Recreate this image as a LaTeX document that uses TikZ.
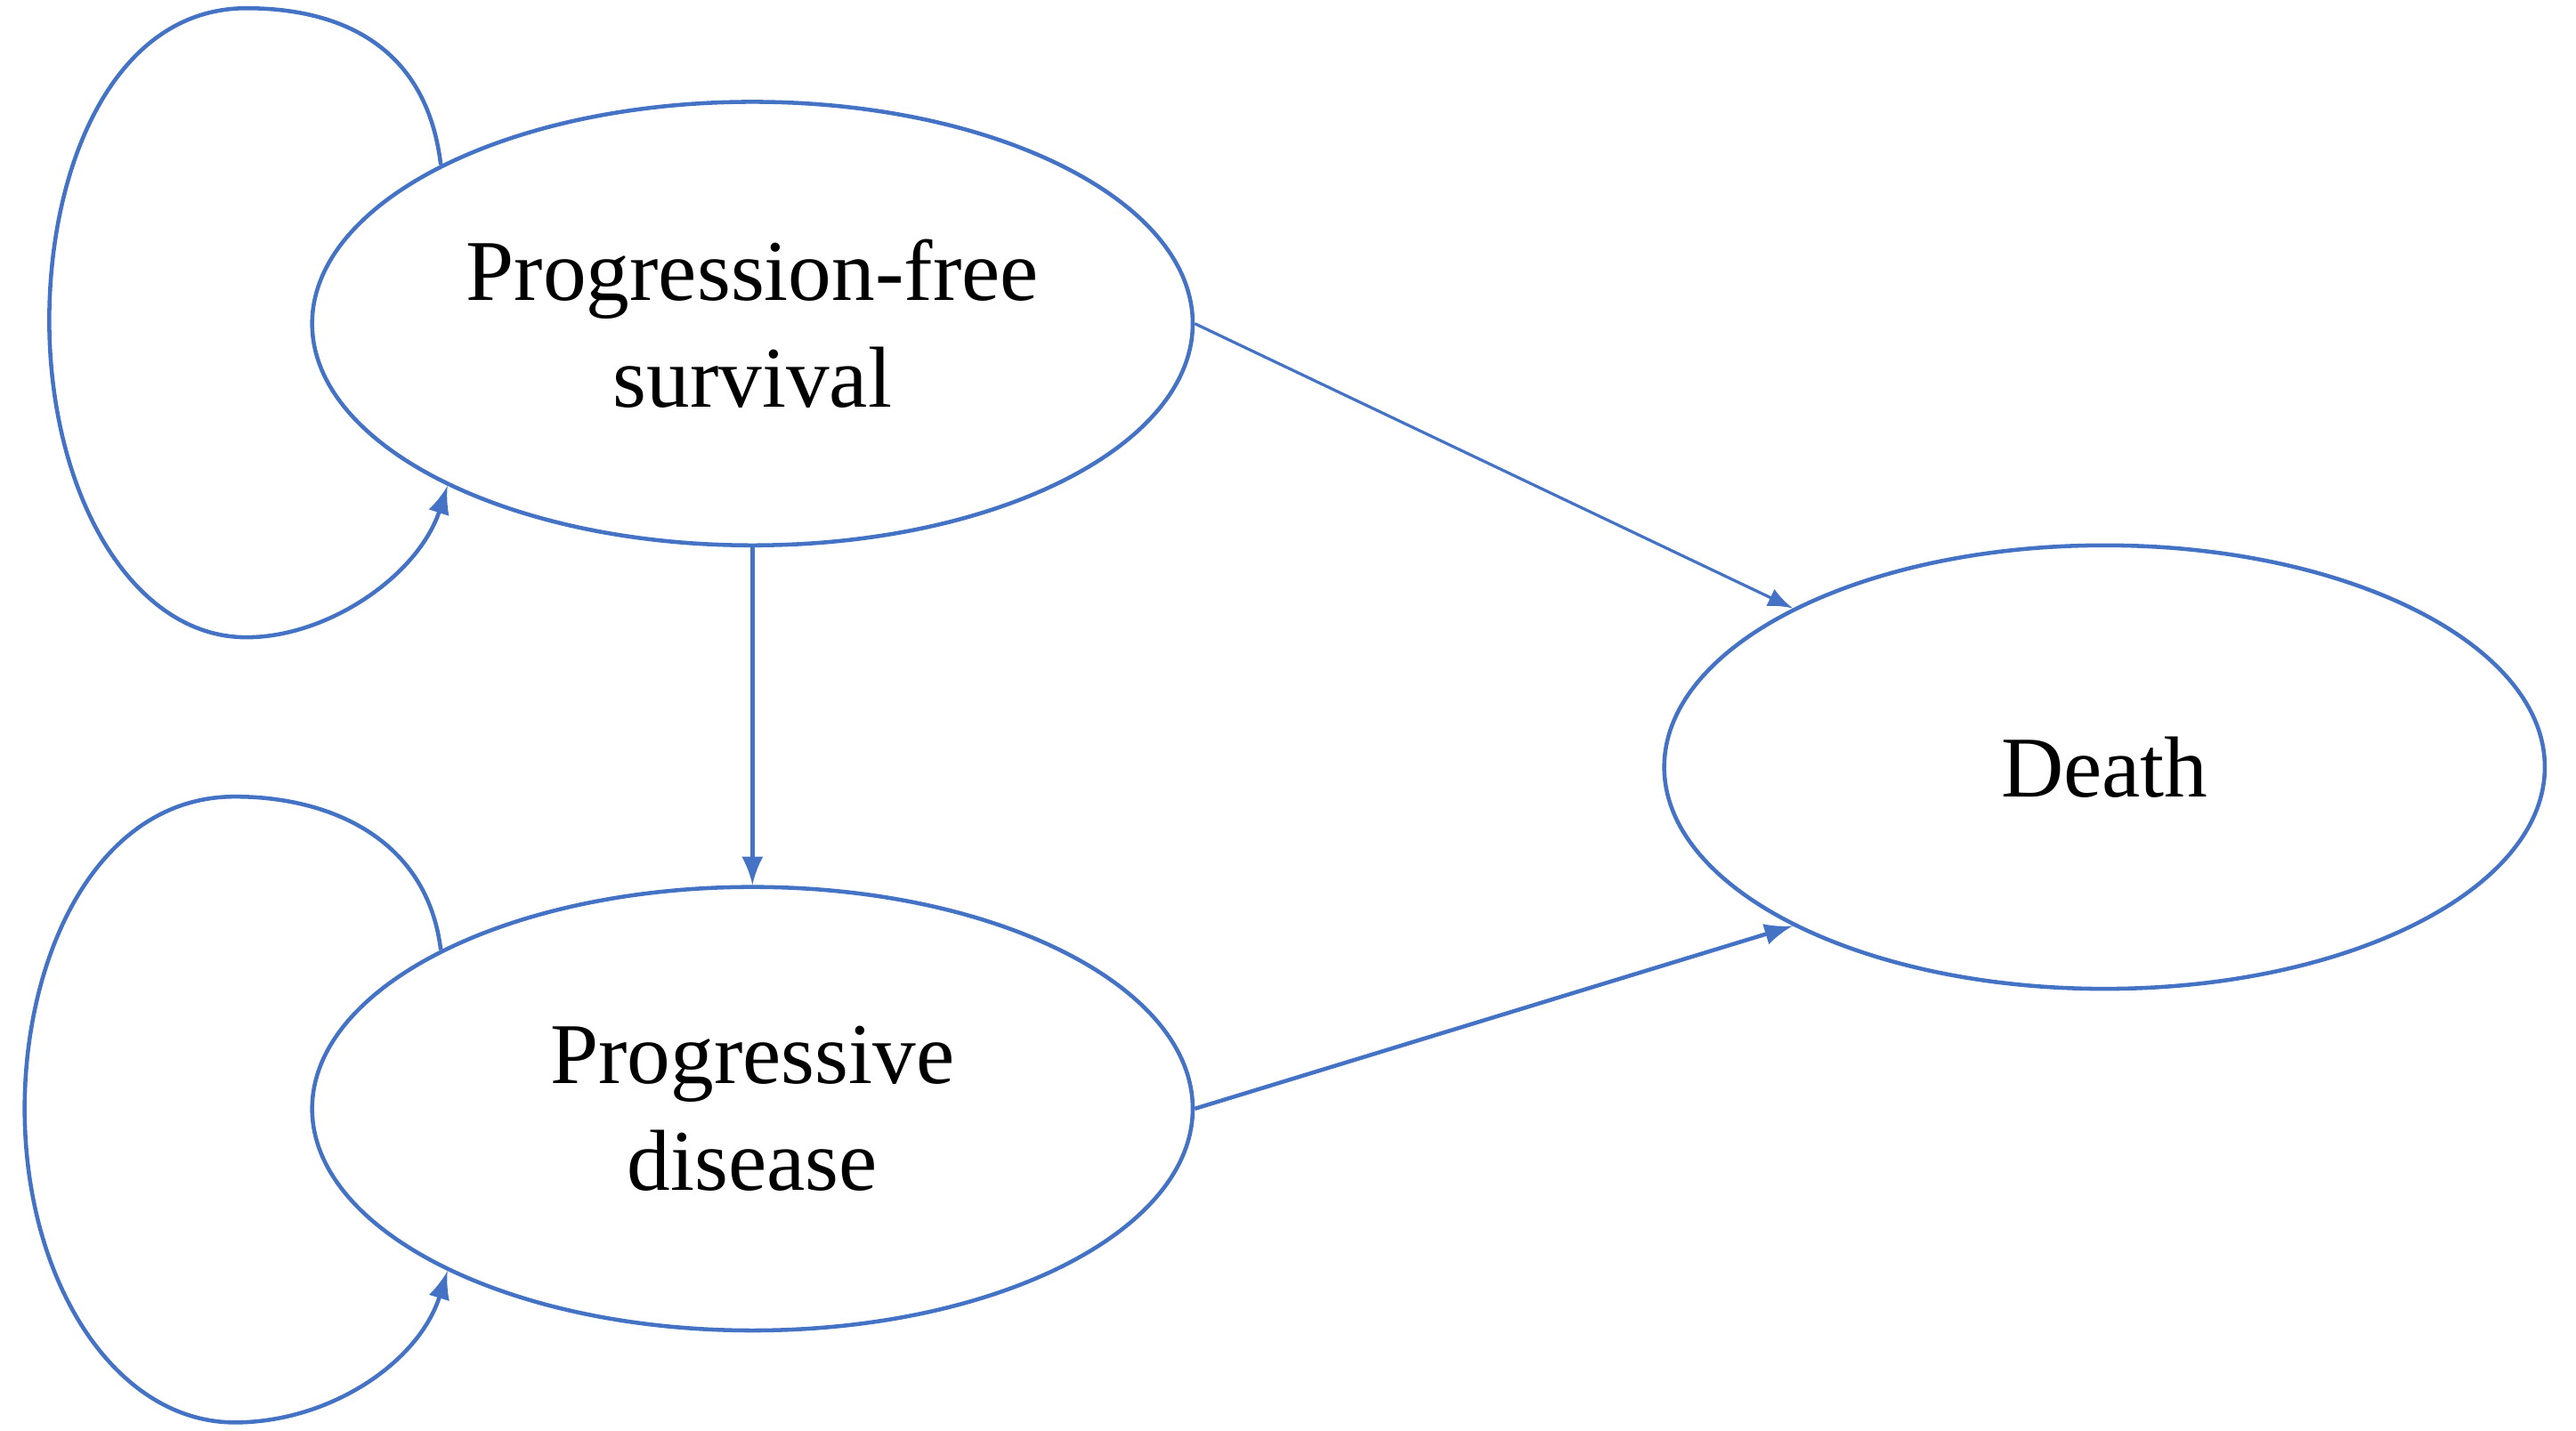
\documentclass[tikz,border=0pt]{standalone}
\usepackage{fontspec}
\setmainfont{Liberation Serif}
\usetikzlibrary{shapes.geometric}
\definecolor{stateblue}{RGB}{68,114,196}
\tikzset{
  state/.style={ellipse, draw=stateblue, line width=0.7pt, minimum width=5.36cm,
    minimum height=2.7cm, inner sep=0pt, align=center, font=\fontsize{15}{18.5}\selectfont},
  trans/.style={->, >=latex, stateblue, line width=0.7pt}
}
\begin{document}
\begin{tikzpicture}
\useasboundingbox (0,0) rectangle (15.68,-8.71);
\node[state] (pfs) at (4.58,-1.97) {Progression-free\\survival};
\node[state] (pd) at (4.58,-6.75) {Progressive\\disease};
\node[state] (death) at (12.81,-4.67) {Death};

\draw[trans] (pfs) -- (pd);
\draw[trans, line width=0.5pt] (pfs.east) -- (death.153);
\draw[trans] (pd.east) -- (death.207);

% self loops
\draw[trans] (pfs.153) .. controls (2.6,-0.3) and (2.1,-0.05) .. (1.5,-0.05)
  .. controls (0.7,-0.05) and (0.3,-1.0) .. (0.3,-1.95)
  .. controls (0.3,-3.0) and (0.8,-3.88) .. (1.5,-3.88)
  .. controls (2.0,-3.88) and (2.55,-3.5) .. (pfs.208);
\draw[trans] (pd.153) .. controls (2.6,-5.1) and (2.0,-4.85) .. (1.43,-4.85)
  .. controls (0.6,-4.85) and (0.15,-5.8) .. (0.15,-6.75)
  .. controls (0.15,-7.8) and (0.7,-8.66) .. (1.43,-8.66)
  .. controls (2.0,-8.66) and (2.55,-8.3) .. (pd.208);
\end{tikzpicture}
\end{document}
